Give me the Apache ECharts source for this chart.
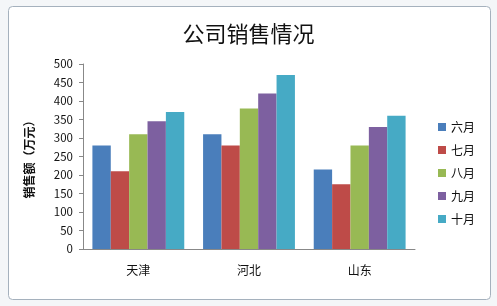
<!DOCTYPE html>
<html><head><meta charset="utf-8">
<script src="https://cdn.jsdelivr.net/npm/echarts@6/dist/echarts.min.js"></script>
<style>html,body{margin:0;padding:0;background:#fff}#c{width:497px;height:306px}</style>
</head><body><div id="c"></div>
<script>
const categories = ['天津', '河北', '山东'];
const seriesNames = ['六月', '七月', '八月', '九月', '十月'];
const june = [280, 310, 215];
const july = [210, 280, 175];
const august = [310, 380, 280];
const september = [345, 420, 330];
const october = [370, 470, 360];
const yTicks = [0, 50, 100, 150, 200, 250, 300, 350, 400, 450, 500];
const colors = ['#4a7ebb', '#be4b48', '#98b954', '#7d60a0', '#46aac5'];
const values = [june, july, august, september, october];

const chart = echarts.init(document.getElementById('c'));
const font = '"Noto Sans CJK SC", "Noto Sans", sans-serif';
chart.setOption({
  animation: false,
  backgroundColor: '#f4f6f8',
  graphic: [
    { type: 'rect', shape: { x: 8.5, y: 6.5, width: 482, height: 293, r: 4 }, style: { fill: '#fff', stroke: '#a5b1bd', lineWidth: 1 }, z: -10 }
  ],
  title: { text: '公司销售情况', left: 'center', top: 18, textStyle: { fontFamily: font, fontSize: 22, fontWeight: 'normal', color: '#111' } },
  legend: {
    orient: 'vertical', left: 433, top: 116, itemWidth: 8, itemHeight: 8, itemGap: 11,
    icon: 'rect', textStyle: { fontFamily: font, fontSize: 12, color: '#111' },
    data: seriesNames
  },
  grid: { left: 83, right: 82, top: 64, bottom: 57 },
  xAxis: {
    type: 'category', data: categories,
    axisLine: { lineStyle: { color: '#888' } },
    axisTick: { show: false },
    axisLabel: { fontFamily: font, fontSize: 12, color: '#111', margin: 15 }
  },
  yAxis: {
    type: 'value', min: yTicks[0], max: yTicks[yTicks.length - 1], interval: 50,
    name: '销售额（万元）', nameLocation: 'middle', nameGap: 48, nameRotate: 90,
    nameTextStyle: { fontFamily: font, fontSize: 12, fontWeight: 'bold', color: '#111' },
    axisLine: { show: true, lineStyle: { color: '#888' } },
    axisTick: { show: true, length: 4, lineStyle: { color: '#888' } },
    splitLine: { show: false },
    axisLabel: { fontFamily: font, fontSize: 11.5, color: '#111', margin: 10 }
  },
  series: seriesNames.map((n, i) => ({
    name: n, type: 'bar', data: values[i], barGap: '0%', barCategoryGap: '17%',
    itemStyle: { color: colors[i] }
  }))
});
</script></body></html>
